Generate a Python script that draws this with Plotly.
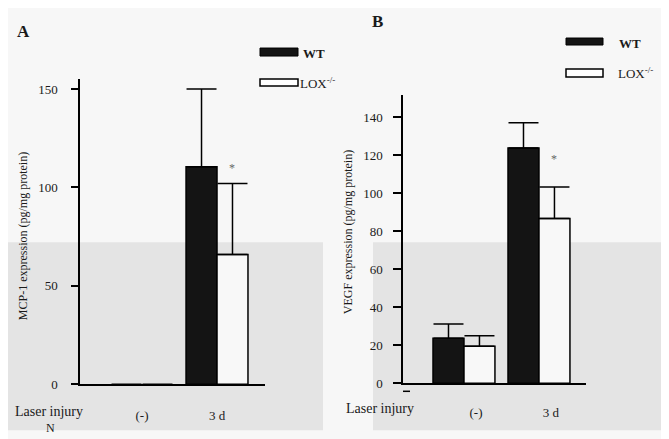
import plotly.graph_objects as go

# Layout pixel positions below are window coordinates; px/py convert them to
# paper fractions, allowing for the page's 8px body margin and the slight
# vertical scaling of the photographed page.
OFF = 8
SY = 0.981
W, H = 669 - OFF, 439

categories = ["(-)", "3 d"]
# Panel A: MCP-1 (pg/mg protein)
mcp_wt = [0, 110.5]
mcp_wt_err = [0, 39.5]
mcp_lox = [0, 66]
mcp_lox_err = [0, 36]
# Panel B: VEGF (pg/mg protein)
vegf_wt = [23.7, 123.7]
vegf_wt_err = [7.5, 13.3]
vegf_lox = [19.5, 86.7]
vegf_lox_err = [5.5, 16.5]

ticks_a = [0, 50, 100, 150]
ticks_b = [0, 20, 40, 60, 80, 100, 120, 140]

FONT = "Liberation Serif, 'Times New Roman', 'DejaVu Serif', serif"
TXT = "#1a1a1a"
WT_COLOR = "#141414"
LOX_COLOR = "#f8f8f8"
BW = 0.413


def px(x):
    return (x - OFF) / W


def py(y):
    return 1 - ((y - OFF) / SY) / H


fig = go.Figure()


def outline(vals):
    return [1.5 if v else 0 for v in vals]


def add_bars(xa, ya, wt, wt_err, lox, lox_err):
    fig.add_trace(go.Bar(
        x=categories, y=wt, xaxis=xa, yaxis=ya, name="WT",
        width=BW, offset=-BW, marker=dict(color=WT_COLOR, line=dict(color="black", width=outline(wt))),
        error_y=dict(type="data", symmetric=False, array=wt_err, arrayminus=[0] * len(wt),
                     color="black", thickness=1.5, width=15),
        showlegend=False))
    fig.add_trace(go.Bar(
        x=categories, y=lox, xaxis=xa, yaxis=ya, name="LOX-/-",
        width=BW, offset=0, marker=dict(color=LOX_COLOR, line=dict(color="black", width=outline(lox))),
        error_y=dict(type="data", symmetric=False, array=lox_err, arrayminus=[0] * len(lox),
                     color="black", thickness=1.5, width=15),
        showlegend=False))


add_bars("x", "y", mcp_wt, mcp_wt_err, mcp_lox, mcp_lox_err)
add_bars("x2", "y2", vegf_wt, vegf_wt_err, vegf_lox, vegf_lox_err)

axis_common = dict(showgrid=False, zeroline=False, showline=True, linecolor="black", linewidth=1.5,
                   tickfont=dict(family=FONT, size=13, color=TXT))

fig.update_layout(
    width=W, height=H, margin=dict(l=0, r=0, t=0, b=0),
    paper_bgcolor="#f7f7f7", plot_bgcolor="rgba(0,0,0,0)",
    barmode="overlay",
    font=dict(family=FONT, color=TXT),
    xaxis=dict(axis_common, domain=[px(80), px(265)], range=[-0.827, 1.64], anchor="y",
               ticks="", ticklabelstandoff=18, type="category"),
    yaxis=dict(axis_common, domain=[py(384), py(79)], range=[0, 155.06], anchor="x",
               tickvals=ticks_a, ticks="outside", ticklen=7, tickwidth=1.5, tickcolor="black",
               ticklabelstandoff=11),
    xaxis2=dict(axis_common, domain=[px(403), px(586)], range=[-0.813, 1.627], anchor="y2",
                ticks="", ticklabelstandoff=16, ticklabelshift=12, type="category"),
    yaxis2=dict(axis_common, domain=[py(383), py(95)], range=[0, 151.6], anchor="x2",
                tickvals=ticks_b, ticks="outside", ticklen=8, tickwidth=1.5, tickcolor="black",
                ticklabelstandoff=8),
)

shapes = [
    # scanned grey background panels
    dict(type="rect", xref="paper", yref="paper", x0=px(8), x1=px(323), y0=py(430), y1=py(242),
         fillcolor="#e4e4e4", line=dict(width=0), layer="below"),
    dict(type="rect", xref="paper", yref="paper", x0=px(373), x1=px(661), y0=py(430), y1=py(242),
         fillcolor="#e4e4e4", line=dict(width=0), layer="below"),
    # legend A
    dict(type="rect", xref="paper", yref="paper", x0=px(260), x1=px(298), y0=py(56), y1=py(48),
         fillcolor=WT_COLOR, line=dict(color="black", width=1)),
    dict(type="rect", xref="paper", yref="paper", x0=px(260), x1=px(298), y0=py(86), y1=py(79),
         fillcolor="white", line=dict(color="black", width=1.5)),
    # legend B
    dict(type="rect", xref="paper", yref="paper", x0=px(566), x1=px(603), y0=py(45), y1=py(38),
         fillcolor=WT_COLOR, line=dict(color="black", width=1)),
    dict(type="rect", xref="paper", yref="paper", x0=px(566), x1=px(603), y0=py(77), y1=py(69),
         fillcolor="white", line=dict(color="black", width=1.5)),
    # small dash below origin of B
    dict(type="line", xref="paper", yref="paper", x0=px(403), x1=px(410), y0=py(391), y1=py(391),
         line=dict(color="black", width=1.5)),
]

annots = [
    dict(text="<b>A</b>", x=px(23), y=py(31), size=17),
    dict(text="<b>B</b>", x=px(377), y=py(21), size=17),
    dict(text="<b>WT</b>", x=px(301), y=py(53), size=13, xanchor="left"),
    dict(text="LOX<sup>-/-</sup>", x=px(298), y=py(83), size=13, xanchor="left"),
    dict(text="<b>WT</b>", x=px(617), y=py(43), size=13, xanchor="left"),
    dict(text="LOX<sup>-/-</sup>", x=px(616), y=py(73), size=13, xanchor="left"),
    dict(text="Laser injury", x=px(49), y=py(411), size=14),
    dict(text="Laser injury", x=px(380), y=py(408), size=14),
    dict(text="N", x=px(50), y=py(428), size=12),
    dict(text="MCP-1 expression (pg/mg protein)", x=px(23), y=py(236), size=12, textangle=-90),
    dict(text="VEGF expression (pg/mg protein)", x=px(348), y=py(232), size=12, textangle=-90),
]
ann_list = []
for a in annots:
    ann_list.append(dict(
        text=a["text"], x=a["x"], y=a["y"], xref="paper", yref="paper", showarrow=False,
        xanchor=a.get("xanchor", "center"), yanchor="middle", textangle=a.get("textangle", 0),
        font=dict(family=FONT, size=a["size"], color=TXT)))

# significance asterisks over LOX bars at 3 d
ann_list.append(dict(text="*", x=categories[1], y=110, xref="x", yref="y", xshift=15, showarrow=False,
                     font=dict(family=FONT, size=12, color="#666")))
ann_list.append(dict(text="*", x=categories[1], y=118, xref="x2", yref="y2", xshift=15, showarrow=False,
                     font=dict(family=FONT, size=12, color="#666")))

fig.update_layout(shapes=shapes, annotations=ann_list)

fig.write_html("out.html")
